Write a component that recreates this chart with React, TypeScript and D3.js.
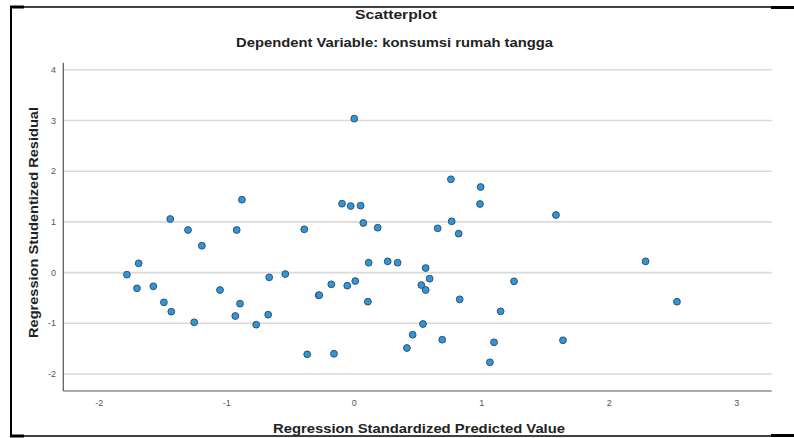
import React from "react";
import * as d3 from "d3";

// predicted (x) and studentized residual (y)
const predicted = [
  -0.881, -1.443, -1.304, -0.922, -0.392, -1.195, -1.691, -1.783, -1.704, -1.576,
  -1.493, -1.435, -1.255, -1.053, -0.896, -0.933, -0.769, -0.675, -0.667, -0.541,
  -0.279, -0.275, 0.0, 0.758, 0.991, -0.096, -0.028, 0.05, 0.986, 1.582,
  0.071, 0.184, 0.654, 0.764, 0.819, 0.113, 0.262, 0.34, 0.56, -0.18,
  -0.055, 0.008, 0.591, 0.526, 0.56, 1.253, 0.107, 0.827, 1.148, 0.539,
  0.458, 0.69, 0.413, 1.096, 1.064, -0.369, -0.159, 2.285, 2.531, 1.637,
];
const residual = [
  1.438, 1.057, 0.84, 0.84, 0.854, 0.53, 0.183, -0.04, -0.31, -0.27,
  -0.586, -0.77, -0.98, -0.343, -0.613, -0.856, -1.027, -0.83, -0.093, -0.028,
  -0.448, -0.445, 3.036, 1.84, 1.688, 1.359, 1.313, 1.32, 1.353, 1.136,
  0.978, 0.886, 0.873, 1.012, 0.768, 0.195, 0.222, 0.195, 0.09, -0.231,
  -0.258, -0.166, -0.12, -0.245, -0.343, -0.172, -0.574, -0.527, -0.764, -1.014,
  -1.225, -1.323, -1.487, -1.375, -1.769, -1.611, -1.6, 0.222, -0.574, -1.335,
];
const xTicks = [-2, -1, 0, 1, 2, 3];
const yTicks = [-2, -1, 0, 1, 2, 3, 4];

const title = "Scatterplot";
const subtitle = "Dependent Variable: konsumsi rumah tangga";
const xTitle = "Regression Standardized Predicted Value";
const yTitle = "Regression Studentized Residual";

const W = 794;
const H = 438;
const left = 63.3, right = 771.7, top = 62.7, bottom = 391;

export default function App() {
  const x = d3.scaleLinear().domain([-2.282, 3.274]).range([left, right]);
  const y = d3.scaleLinear().domain([-2.335, 4.14]).range([bottom, top]);
  const font = "Arial, 'Liberation Sans', sans-serif";

  return (
    <svg width={W} height={H} style={{ position: "absolute", left: 0, top: 0 }}>
      <rect width={W} height={H} fill="#fff" />
      {/* outer frame */}
      <line x1={10} y1={7} x2={794} y2={7} stroke="#000" strokeWidth={1.5} />
      <line x1={10} y1={7} x2={24} y2={7} stroke="#000" strokeWidth={3} />
      <line x1={771} y1={7.5} x2={794} y2={7.5} stroke="#000" strokeWidth={3} />
      <line x1={10} y1={436} x2={794} y2={436} stroke="#000" strokeWidth={1.5} />
      <line x1={10} y1={436} x2={24} y2={436} stroke="#000" strokeWidth={3} />
      <line x1={771} y1={435.5} x2={794} y2={435.5} stroke="#000" strokeWidth={3} />
      <line x1={11} y1={7} x2={11} y2={437} stroke="#000" strokeWidth={2} />

      <text x={396} y={18.5} textAnchor="middle" fontFamily={font} fontSize={13} fontWeight="bold" fill="#222"
        textLength={82} lengthAdjust="spacingAndGlyphs">
        {title}
      </text>
      <text x={394.5} y={47} textAnchor="middle" fontFamily={font} fontSize={13} fontWeight="bold" fill="#222"
        textLength={317} lengthAdjust="spacingAndGlyphs">
        {subtitle}
      </text>

      {yTicks.map((t) => (
        <g key={t}>
          <line x1={left} x2={right} y1={y(t)} y2={y(t)} stroke="#d9d9d9" strokeWidth={1.6} />
          <text x={56} y={y(t) + 3} textAnchor="end" fontFamily={font} fontSize={9} fill="#555">
            {t}
          </text>
        </g>
      ))}
      {xTicks.map((t) => (
        <text key={t} x={x(t)} y={406} textAnchor="middle" fontFamily={font} fontSize={9} fill="#555">
          {t}
        </text>
      ))}

      <line x1={left} x2={left} y1={top} y2={bottom} stroke="#555" strokeWidth={1.2} />
      <line x1={left} x2={right} y1={bottom} y2={bottom} stroke="#555" strokeWidth={1.2} />

      {predicted.map((p, i) => (
        <circle key={i} cx={x(p)} cy={y(residual[i])} r={3.4} fill="#2b97de" stroke="#3d4f60" strokeWidth={1} />
      ))}

      <text x={419} y={433} textAnchor="middle" fontFamily={font} fontSize={13.5} fontWeight="bold" fill="#222"
        textLength={292} lengthAdjust="spacingAndGlyphs">
        {xTitle}
      </text>
      <text
        transform={`translate(37.5,222.5) rotate(-90)`}
        textAnchor="middle"
        fontFamily={font}
        fontSize={13.5}
        fontWeight="bold"
        fill="#222"
        textLength={231}
        lengthAdjust="spacingAndGlyphs"
      >
        {yTitle}
      </text>
    </svg>
  );
}
